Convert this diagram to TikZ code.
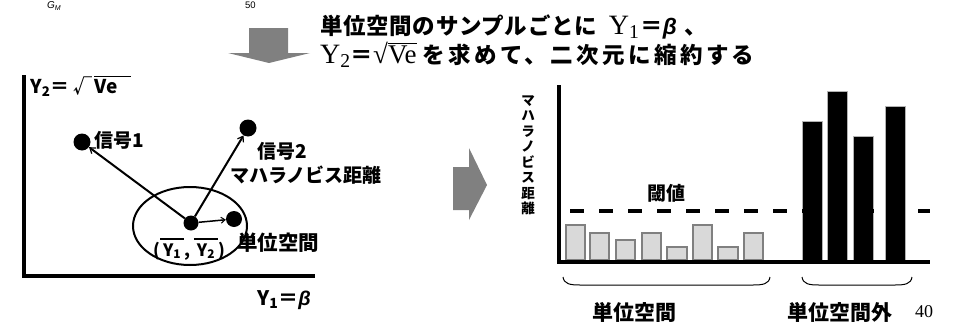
\documentclass[tikz,border=0pt]{standalone}
\usepackage{fontspec}
\usepackage{graphicx}
\usetikzlibrary{arrows.meta}
\newfontfamily\jp{Noto Sans CJK JP}
\newfontfamily\tm{Liberation Serif}
\newfontfamily\ls{Liberation Sans}
\newcommand\myovl[3]{\vbox{\hrule height #1\kern #2\hbox{#3}}}
\begin{document}
\begin{tikzpicture}[x=1pt,y=-1pt,
  tt/.style={font=\jp\bfseries\fontsize{22.5}{26}\selectfont, inner sep=0pt, anchor=base west},
  lab/.style={font=\jp\bfseries\fontsize{19}{22}\selectfont, inner sep=0pt, anchor=base west},
  big/.style={font=\jp\bfseries\fontsize{21}{24}\selectfont, inner sep=0pt, anchor=base west},
  dot/.style={circle, fill=black, inner sep=0pt, minimum size=#1},
  sig/.style={line width=2pt, -{Straight Barb[length=5pt,width=7pt,line width=1.2pt]}},
  axis/.style={line width=4pt},
  gbar/.style={fill=gray!30, draw=gray, line width=1.2pt},
  kbar/.style={fill=black, draw=gray!60, line width=0.6pt},
  garrow/.style={fill=gray, draw=none},
  brace/.style={line width=1pt}
]
\useasboundingbox (0,0) rectangle (971,332);

% tiny header texts
\node[font=\ls\itshape\fontsize{10}{11}\selectfont, inner sep=0pt, anchor=base west] (gm) at (47,9) {G\textsubscript{M}};
\node[font=\ls\fontsize{9.5}{11}\selectfont, inner sep=0pt, anchor=base west] (fifty) at (245,9) {50};

% down arrow
\fill[garrow] (249,28) -- (288,28) -- (288,53) -- (310,53) -- (269,63) -- (228,53) -- (249,53) -- cycle;

% title
\node[tt] (t1) at (320,34) {{\addfontfeature{LetterSpace=3}単位空間のサンプルごとに}\kern12pt{\tm\mdseries\fontsize{28}{30}\selectfont Y\textsubscript{1}}\kern1pt＝{\ls\bfseries\itshape β}\kern8pt、};
\node[tt] (t2) at (320,63) {{\tm\mdseries\fontsize{28}{30}\selectfont Y\textsubscript{2}}＝{\tm\mdseries\fontsize{27}{30}\selectfont √\myovl{1pt}{1pt}{Ve}}\kern6pt{\addfontfeature{LetterSpace=15}を求めて、二次元に縮約する}};

% left panel axes
\coordinate (lo) at (24,276);
\coordinate (ltop) at (24,75);
\coordinate (lright) at (315,276);
\draw[axis] (ltop) -- (lo) -- (lright);
\node[lab, font=\jp\bfseries\fontsize{19}{22}\selectfont] (y2) at (30,93) {Y\textsubscript{2}＝\kern4pt√\kern2pt\myovl{1.2pt}{1.5pt}{Ve\kern14pt}};
\node[lab, font=\jp\bfseries\fontsize{20}{22}\selectfont] (y1) at (257,305) {Y\textsubscript{1}＝{\ls\bfseries\itshape β}};

% ellipse
\draw[line width=2pt] (190,226) ellipse [x radius=57, y radius=39];

% dots
\node[dot=17pt] (s1) at (82,142) {};
\node[dot=17pt] (s2) at (248,128) {};
\node[dot=15pt] (c) at (191,223) {};
\node[dot=16pt] (u) at (234,219) {};
\draw[sig] (c) -- (s1);
\draw[sig] (c) -- (s2);
\draw[line width=1.5pt, -{Straight Barb[length=4pt,width=6pt,line width=1pt]}] (c) -- (u);

\node[lab] (l1) at (94,147) {信号1};
\node[lab] (l2) at (257,158) {信号2};
\node[lab] (lm) at (230,182) {マハラノビス距離};
\node[lab, font=\jp\bfseries\fontsize{20.5}{22}\selectfont] (lu) at (237,250) {単位空間};
\node[lab, font=\jp\bfseries\fontsize{17}{20}\selectfont] (cy) at (153,256) {(\myovl{2.5pt}{3pt}{\kern3pt Y\textsubscript{1}\kern3pt}, \myovl{2.5pt}{3pt}{\kern3pt Y\textsubscript{2}\kern3pt})};

% right arrow
\fill[garrow] (453,167) -- (469,167) -- (469,148) -- (487,185) -- (469,220) -- (469,210) -- (453,210) -- cycle;

% right panel
\node[font=\jp\bfseries\fontsize{13.5}{15.5}\selectfont, align=center, inner sep=0pt] (vl) at (528,155) {マ\\ハ\\ラ\\ノ\\ビ\\ス\\距\\離};
\coordinate (ro) at (559,262);
\coordinate (rtop) at (559,85);
\coordinate (rright) at (930,262);

% grey bars
\foreach \xa/\xb/\yt in {566/585/225, 590/609/233, 616/635/240, 642/661/233, 667/687/247, 693/712/225, 718/738/247, 744/763/233}
  \draw[gbar] (\xa,260) rectangle (\xb,\yt);
% black bars
\foreach \xa/\xb/\yt in {802/822/121, 827/847/91, 853/873/136, 885/905/106}
  \draw[kbar] (\xa,261) rectangle (\xb,\yt);

\coordinate (th0) at (570,211);
\coordinate (th1) at (930,211);
\draw[line width=3.3pt, dash pattern=on 14pt off 15pt] (th0) -- (th1);
\node[lab] (thl) at (647,200) {閾値};

\draw[axis] (rtop) -- (ro) -- (rright);

% braces
\coordinate (b1a) at (563,277);
\coordinate (b1b) at (770,277);
\coordinate (b2a) at (802,277);
\coordinate (b2b) at (912,277);
\draw[brace] (b1a) .. controls (564,284) and (570,285) .. (580,285) -- (753,285) .. controls (763,285) and (769,284) .. (b1b);
\draw[brace] (b2a) .. controls (803,284) and (809,285) .. (819,285) -- (895,285) .. controls (905,285) and (911,284) .. (b2b);

\node[big] (r1) at (592,320) {単位空間};
\node[big] (r2) at (787,320) {単位空間外};
\node[font=\tm\fontsize{18}{20}\selectfont, inner sep=0pt, anchor=base west] (pg) at (915,317) {40};
\end{tikzpicture}
\end{document}
